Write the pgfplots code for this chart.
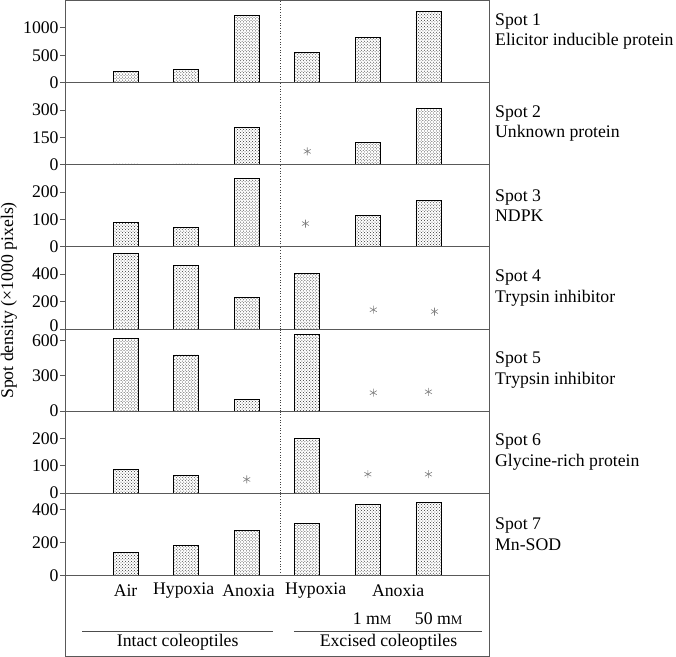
\documentclass[border=0pt]{standalone}
\usepackage{fontspec}
\setmainfont{Liberation Serif}
\usepackage{pgfplots}
\pgfplotsset{compat=1.18}
\usetikzlibrary{patterns}
\tikzset{
 sepline/.style={dotted, black!75, line width=0.7bp},
 rlab/.style={anchor=west, align=left, font=\fontsize{17.8}{20.5}\selectfont, inner sep=0pt, xshift=6bp},
}
\begin{document}
\fontsize{17.8}{20.5}\selectfont
\begin{tikzpicture}
\pgfplotsset{
 panel/.style={
   width=424bp, height=82.1bp, scale only axis,
   xmin=-1, xmax=6, ymin=0,
   axis line style={black!65, line width=0.8bp},
   xtick=\empty,
   ytick pos=left, tick align=outside, major tick length=5bp,
   tick style={black!65, line width=0.8bp},
   /pgf/number format/assume math mode=true,
   /pgf/number format/1000 sep={},
   ticklabel style={font=\fontsize{17.8}{20}\selectfont, inner sep=1.2bp},
   clip=false,
   anchor=north west,
 },
 bars/.style={ybar, bar width=25bp, bar shift=0pt, draw=black, line width=0.8bp, pattern=crosshatch dots, pattern color=black!80},
 ast/.style={only marks, mark=asterisk, mark size=4bp, color=gray, mark options={line width=0.6bp}},
}
\path[use as bounding box] (0,0.5bp) rectangle (676bp,-656.5bp);
% Panel 1
\begin{axis}[panel, at={(65bp,0bp)}, ymax=1500, ytick={0,500,1000}]
\addplot[bars] coordinates {(0,207) (1,238) (2,1233) (3,544) (4,818) (5,1300)};
\draw[sepline] (axis cs:2.56,0) -- (axis cs:2.56,1500);
\node[rlab] at (axis description cs:1,0.62) {Spot 1\\Elicitor inducible protein};
\end{axis}
% Panel 2
\begin{axis}[panel, at={(65bp,-82.1bp)}, ymax=450, ytick={0,150,300}]
\addplot[bars] coordinates {(0,4) (1,4) (2,205) (4,121) (5,306)};
\addplot[ast] coordinates {(3,73)};
\draw[sepline] (axis cs:2.56,0) -- (axis cs:2.56,450);
\node[rlab] at (axis description cs:1,0.5) {Spot 2\\Unknown protein};
\end{axis}
% Panel 3
\begin{axis}[panel, at={(65bp,-164.2bp)}, ymax=300, ytick={0,100,200}]
\addplot[bars] coordinates {(0,88) (1,72) (2,250) (4,113) (5,170)};
\addplot[ast] coordinates {(2.97,85)};
\draw[sepline] (axis cs:2.56,0) -- (axis cs:2.56,300);
\node[rlab] at (axis description cs:1,0.5) {Spot 3\\NDPK};
\end{axis}
% Panel 4
\begin{axis}[panel, at={(65bp,-246.3bp)}, ymax=600, ytick={0,200,400},
  yticklabels={\raisebox{6bp}{0},200,400}]
\addplot[bars] coordinates {(0,555) (1,467) (2,229) (3,405)};
\addplot[ast] coordinates {(4.09,140) (5.1,127)};
\draw[sepline] (axis cs:2.56,0) -- (axis cs:2.56,600);
\node[rlab] at (axis description cs:1,0.5) {Spot 4\\Trypsin inhibitor};
\end{axis}
% Panel 5
\begin{axis}[panel, at={(65bp,-328.4bp)}, ymax=700, ytick={0,300,600},
  yticklabels={0,300,\raisebox{-6bp}{600}}]
\addplot[bars] coordinates {(0,623) (1,478) (2,99) (3,652)};
\addplot[ast] coordinates {(4.09,156) (5.0,164)};
\draw[sepline] (axis cs:2.56,0) -- (axis cs:2.56,700);
\node[rlab] at (axis description cs:1,0.5) {Spot 5\\Trypsin inhibitor};
\end{axis}
% Panel 6
\begin{axis}[panel, at={(65bp,-410.5bp)}, ymax=300, ytick={0,100,200}]
\addplot[bars] coordinates {(0,85) (1,65) (3,200)};
\addplot[ast] coordinates {(2.0,50) (4.0,69) (5.0,69)};
\draw[sepline] (axis cs:2.56,0) -- (axis cs:2.56,300);
\node[rlab] at (axis description cs:1,0.5) {Spot 6\\Glycine-rich protein};
\end{axis}
% Panel 7
\begin{axis}[panel, at={(65bp,-492.6bp)}, ymax=500, ytick={0,200,400}]
\addplot[bars] coordinates {(0,139) (1,182) (2,275) (3,315) (4,433) (5,445)};
\draw[sepline] (axis cs:2.56,0) -- (axis cs:2.56,500);
\node[rlab] at (axis description cs:1,0.5) {Spot 7\\Mn-SOD};
\end{axis}
% Bottom label region
\begin{axis}[width=424bp, height=81bp, scale only axis, at={(65bp,-574.7bp)}, anchor=north west,
  xmin=-1, xmax=6, ymin=0, ymax=81, axis line style={black!65, line width=0.8bp},
  xtick=\empty, ytick=\empty, clip=false]
\node at (axis cs:0,65.3) {Air};
\node at (axis cs:0.96,65.3) {Hypoxia};
\node at (axis cs:2.03,65.3) {Anoxia};
\node at (axis cs:3.14,65.3) {Hypoxia};
\node at (axis cs:4.50,65.3) {Anoxia};
\node at (axis cs:4.07,38) {1 m{\fontsize{13}{12}\selectfont M}};
\node at (axis cs:5.17,38) {50 m{\fontsize{13}{12}\selectfont M}};
\draw[black!70, line width=0.8bp] (axis cs:-0.715,25.3) -- (axis cs:2.44,25.3);
\draw[black!70, line width=0.8bp] (axis cs:2.78,25.3) -- (axis cs:5.89,25.3);
\node at (axis cs:0.86,13.5) {Intact coleoptiles};
\node at (axis cs:4.34,13.5) {Excised coleoptiles};
\end{axis}
\node[rotate=90, inner sep=0pt] at (9bp,-300bp) {Spot density (×1000 pixels)};
\end{tikzpicture}
\end{document}
